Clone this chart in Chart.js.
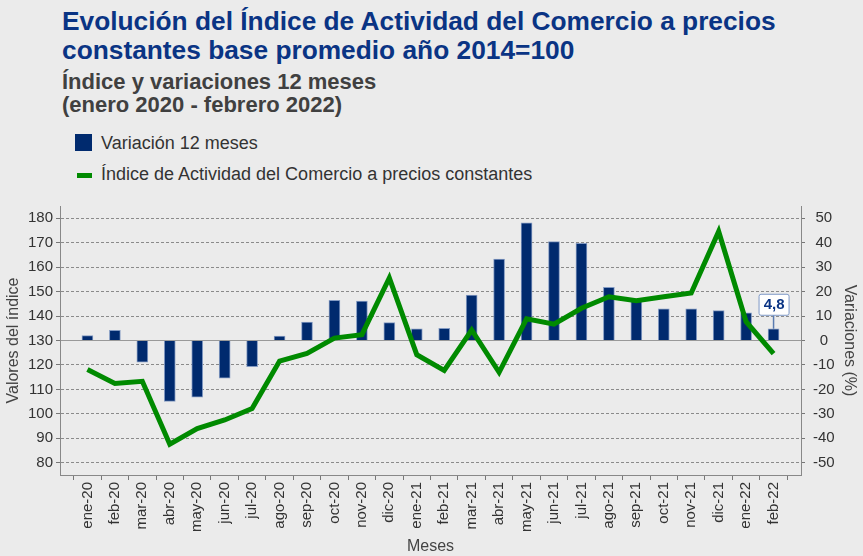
<!DOCTYPE html>
<html lang="es">
<head>
<meta charset="utf-8">
<title>Índice de Actividad del Comercio</title>
<script src="https://cdn.jsdelivr.net/npm/chart.js@4.4.1/dist/chart.umd.min.js"></script>
<style>
  html, body { margin: 0; padding: 0; background: #ebebeb; }
  body { width: 863px; height: 556px; position: relative; overflow: hidden; font-family: "Liberation Sans", Arial, sans-serif; }
  #title { position: absolute; left: 62px; top: 7px; font-size: 26.3px; line-height: 29px; font-weight: bold; color: #0a3484; white-space: nowrap; }
  #subtitle { position: absolute; left: 62px; top: 70px; font-size: 22px; line-height: 23px; font-weight: bold; color: #404040; white-space: nowrap; }
  .legend-item { position: absolute; left: 75px; font-size: 18px; color: #333; height: 20px; line-height: 20px; }
  .legend-item span { position: absolute; left: 26px; top: 0; white-space: nowrap; }
  .swatch-bar { position: absolute; left: 0; top: 1px; width: 17px; height: 17px; background: #002a6e; }
  .swatch-line { position: absolute; left: 2px; top: 9px; width: 15px; height: 5px; background: #008a00; }
  #chart-box { position: absolute; left: 0; top: 0; width: 863px; height: 556px; }
</style>
</head>
<body>
<div id="title">Evolución del Índice de Actividad del Comercio a precios<br>constantes base promedio año 2014=100</div>
<div id="subtitle">Índice y variaciones 12 meses<br>(enero 2020 - febrero 2022)</div>
<div class="legend-item" style="top:133px"><div class="swatch-bar"></div><span>Variación 12 meses</span></div>
<div class="legend-item" style="top:164px"><div class="swatch-line"></div><span>Índice de Actividad del Comercio a precios constantes</span></div>
<div id="chart-box"><canvas id="chart"></canvas></div>

<script>
// Meses (eje x)
const months = ['ene-20', 'feb-20', 'mar-20', 'abr-20', 'may-20', 'jun-20', 'jul-20', 'ago-20',
  'sep-20', 'oct-20', 'nov-20', 'dic-20', 'ene-21', 'feb-21', 'mar-21', 'abr-21', 'may-21',
  'jun-21', 'jul-21', 'ago-21', 'sep-21', 'oct-21', 'nov-21', 'dic-21', 'ene-22', 'feb-22'];

// Variación 12 meses (%), eje derecho
const variation = [2.0, 4.2, -8.9, -24.9, -23.2, -15.4, -10.7, 1.8, 7.5, 16.4, 16.1, 7.3, 4.8,
  5.0, 18.6, 33.3, 48.1, 40.4, 39.7, 21.7, 16.5, 12.9, 12.9, 12.2, 11.3, 4.8];

// Índice a precios constantes, eje izquierdo
const indexValues = [118.1, 112.4, 113.3, 87.6, 94.0, 97.5, 102.2, 121.6, 124.7, 131.0, 132.4,
  155.6, 124.2, 117.8, 134.3, 117.0, 138.9, 136.7, 143.2, 147.9, 146.3, 147.9, 149.4, 174.6,
  137.7, 124.6];

const leftTicks = [80, 90, 100, 110, 120, 130, 140, 150, 160, 170, 180];
const rightTicks = [-50, -40, -30, -20, -10, 0, 10, 20, 30, 40, 50];

// Etiqueta con el último valor de la variación
const lastValueLabel = {
  id: 'lastValueLabel',
  afterDatasetsDraw(chart) {
    const meta = chart.getDatasetMeta(0);
    const bar = meta.data[meta.data.length - 1];
    if (!bar) return;
    const ctx = chart.ctx;
    const text = String(variation[variation.length - 1]).replace('.', ',');
    const x = bar.x;
    const yTop = bar.y;
    const boxW = 30, boxH = 21, gap = 14;
    ctx.save();
    ctx.strokeStyle = '#5a7bb0';
    ctx.lineWidth = 1.5;
    ctx.beginPath();
    ctx.moveTo(x, yTop);
    ctx.lineTo(x, yTop - gap);
    ctx.stroke();
    ctx.fillStyle = '#ffffff';
    ctx.strokeStyle = '#7d98c6';
    ctx.lineWidth = 1;
    ctx.beginPath();
    ctx.roundRect(x - boxW / 2 + 0.5, yTop - gap - boxH + 0.5, boxW, boxH, 2);
    ctx.fill();
    ctx.stroke();
    ctx.fillStyle = '#0a3484';
    ctx.font = 'bold 15px "Liberation Sans", Arial, sans-serif';
    ctx.textAlign = 'center';
    ctx.textBaseline = 'middle';
    ctx.fillText(text, x + 0.5, yTop - gap - boxH / 2 + 1);
    ctx.restore();
  }
};

Chart.defaults.font.family = '"Liberation Sans", Arial, sans-serif';
Chart.defaults.color = '#333';

new Chart(document.getElementById('chart'), {
  type: 'bar',
  data: {
    datasets: [
      {
        type: 'bar',
        label: 'Variación 12 meses',
        data: variation.map((v, i) => ({ x: i, y: v })),
        yAxisID: 'y1',
        backgroundColor: '#002a6e',
        borderColor: 'rgba(120,145,190,0.9)',
        borderWidth: 1,
        barThickness: 11,
        order: 1
      },
      {
        type: 'line',
        label: 'Índice de Actividad del Comercio a precios constantes',
        data: indexValues.map((v, i) => ({ x: i, y: v })),
        yAxisID: 'y',
        borderColor: '#008a00',
        borderWidth: 5,
        borderJoinStyle: 'miter',
        pointRadius: 0,
        tension: 0,
        order: 0
      }
    ]
  },
  options: {
    responsive: true,
    maintainAspectRatio: false,
    animation: false,
    layout: { padding: { top: 206, left: 0, right: 0, bottom: 0 } },
    plugins: {
      legend: { display: false },
      tooltip: { enabled: false }
    },
    scales: {
      x: {
        type: 'linear',
        offset: false,
        min: -1,
        max: months.length,
        afterBuildTicks: s => { s.ticks = months.map((m, i) => ({ value: i })); },
        afterFit: s => { s.height = 81; s.paddingLeft = 0; s.paddingRight = 0; },
        ticks: {
          callback: v => months[v],
          autoSkip: false,
          maxRotation: 90,
          minRotation: 90,
          padding: 2,
          font: { size: 15 },
          color: '#333'
        },
        grid: { drawOnChartArea: false, drawTicks: true, tickLength: 5, color: '#777' },
        border: { color: '#888', width: 1 },
        title: { display: true, text: 'Meses', font: { size: 16 }, color: '#444', padding: { top: 0, bottom: 0 } }
      },
      y: {
        position: 'left',
        min: 75,
        max: 185,
        afterBuildTicks: s => { s.ticks = leftTicks.map(v => ({ value: v })); },
        afterFit: s => { s.width = 60; },
        ticks: { font: { size: 15 }, color: '#333', padding: 3 },
        grid: {
          color: ctx => ctx.tick && ctx.tick.value === 130 ? '#999' : '#8a8a8a',
          tickColor: '#777',
          tickLength: 4
        },
        border: {
          color: '#888',
          dash: ctx => ctx.tick && ctx.tick.value === 130 ? [] : [3, 2]
        },
        title: { display: true, text: 'Valores del índice', font: { size: 16 }, color: '#444' }
      },
      y1: {
        position: 'right',
        min: -55,
        max: 55,
        afterBuildTicks: s => { s.ticks = rightTicks.map(v => ({ value: v })); },
        afterFit: s => { s.width = 62; },
        ticks: { font: { size: 15 }, color: '#333', padding: 8, crossAlign: 'center' },
        grid: { drawOnChartArea: false, tickColor: '#777', tickLength: 4 },
        border: { color: '#888' },
        title: { display: true, text: 'Variaciones (%)', font: { size: 16 }, color: '#444' }
      }
    }
  },
  plugins: [lastValueLabel]
});
</script>
</body>
</html>
